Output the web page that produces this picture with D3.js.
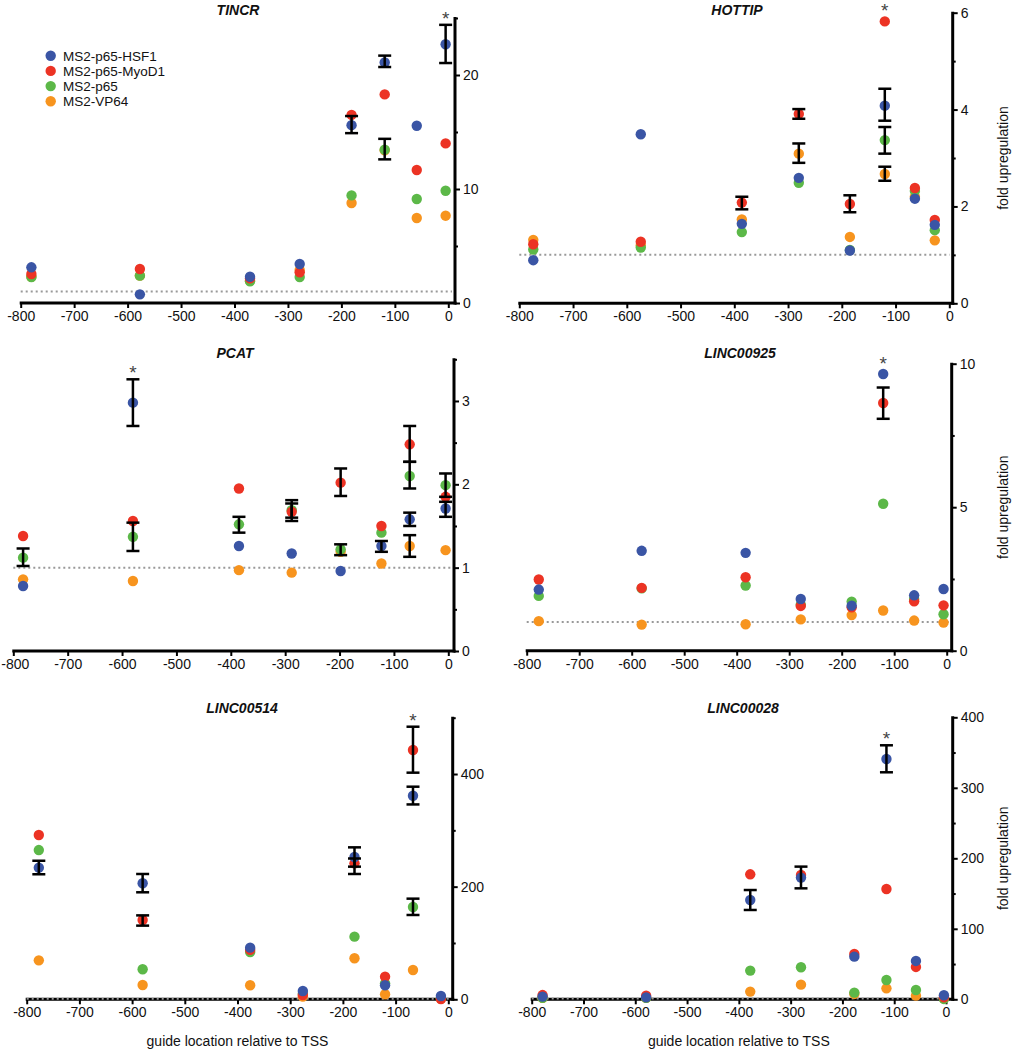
<!DOCTYPE html>
<html>
<head>
<meta charset="utf-8">
<script src="https://cdn.jsdelivr.net/npm/d3@7"></script>
<style>
  html, body { margin: 0; padding: 0; background: #fff; }
  svg { display: block; font-family: "Liberation Sans", Arial, Helvetica, sans-serif; }
</style>
</head>
<body>
<svg id="chart" width="1023" height="1050"></svg>
<script>
// ---------------- DATA ----------------
const seriesNames = ["MS2-p65-HSF1", "MS2-p65-MyoD1", "MS2-p65", "MS2-VP64"];
const seriesColors = ["#3a55a5", "#ec3324", "#5cb848", "#f7941e"];
const xTickValues = [-800, -700, -600, -500, -400, -300, -200, -100, 0];

// TINCR
const tincrPos   = [-780, -577, -371, -278, -181, -119, -59, -5];
const tincrHSF1  = [3.13, 0.76, 2.30, 3.42, 15.6, 21.1, 15.55, 22.7];
const tincrMyoD1 = [2.54, 2.98, 2.16, 2.69, 16.5, 18.3, 11.67, 14.0];
const tincrP65   = [2.28, 2.40, 1.90, 2.28, 9.44, 13.45, 9.12, 9.85];
const tincrVP64  = [2.30, 2.40, 1.95, 2.90, 8.77, 13.4, 7.46, 7.66];
const tincrErr   = [[0, 4, 14.9, 16.4], [0, 5, 20.7, 21.7], [2, 5, 12.6, 14.4], [0, 7, 21.05, 24.4]];
const tincrStar  = 7;

// HOTTIP
const hottipPos   = [-774, -574, -386, -280, -185, -120, -64, -27];
const hottipHSF1  = [0.89, 3.49, 1.64, 2.59, 1.09, 4.08, 2.16, 1.62];
const hottipMyoD1 = [1.22, 1.27, 2.08, 3.91, 2.05, 5.82, 2.38, 1.72];
const hottipP65   = [1.11, 1.15, 1.47, 2.49, 1.10, 3.37, 2.32, 1.51];
const hottipVP64  = [1.31, 1.20, 1.73, 3.09, 1.37, 2.67, 2.20, 1.30];
const hottipErr   = [[1, 2, 1.94, 2.2], [1, 3, 3.81, 4.01], [3, 3, 2.90, 3.30], [1, 4, 1.88, 2.23],
                     [0, 5, 3.77, 4.43], [2, 5, 3.09, 3.64], [3, 5, 2.53, 2.82]];
const hottipStar  = 5;

// PCAT
const pcatPos   = [-782, -580, -385, -288, -198, -123, -71, -5];
const pcatHSF1  = [0.78, 2.98, 1.26, 1.17, 0.96, 1.26, 1.58, 1.71];
const pcatMyoD1 = [1.38, 1.56, 1.95, 1.67, 2.02, 1.50, 2.48, 1.85];
const pcatP65   = [1.12, 1.37, 1.52, 1.69, 1.22, 1.42, 2.10, 1.99];
const pcatVP64  = [0.86, 0.84, 0.97, 0.94, 1.19, 1.05, 1.26, 1.21];
const pcatErr   = [[2, 0, 1.02, 1.23], [0, 1, 2.70, 3.26], [2, 1, 1.20, 1.54], [2, 2, 1.42, 1.61],
                   [1, 3, 1.56, 1.77], [2, 3, 1.60, 1.81], [1, 4, 1.86, 2.19], [2, 4, 1.15, 1.28],
                   [0, 5, 1.19, 1.32], [1, 6, 2.27, 2.70], [2, 6, 1.95, 2.27], [0, 6, 1.50, 1.66],
                   [3, 6, 1.13, 1.39], [2, 7, 1.85, 2.13], [0, 7, 1.61, 1.79]];
const pcatStar  = 1;

// LINC00925
const l925Pos   = [-777, -581, -383, -278, -181, -121, -62, -6];
const l925HSF1  = [2.13, 3.48, 3.41, 1.80, 1.57, 9.64, 1.93, 2.15];
const l925MyoD1 = [2.48, 2.19, 2.56, 1.56, 1.51, 8.63, 1.72, 1.58];
const l925P65   = [1.91, 2.17, 2.27, 1.60, 1.71, 5.12, 1.80, 1.27];
const l925VP64  = [1.03, 0.91, 0.92, 1.09, 1.24, 1.40, 1.05, 0.98];
const l925Err   = [[1, 5, 8.08, 9.17]];
const l925Star  = 5;

// LINC00514
const l514Pos   = [-777, -580, -376, -276, -178, -120, -67, -14];
const l514HSF1  = [233.7, 206, 91.7, 14.8, 252.7, 24.9, 361.5, 5.9];
const l514MyoD1 = [291.7, 140.8, 88, 7.7, 241.4, 40.2, 442.6, 0.5];
const l514P65   = [265, 53.3, 84, 10, 111.2, 28.4, 163.9, 2];
const l514VP64  = [69.2, 25.4, 24.9, 5, 72.8, 8.9, 52, 1];
const l514Err   = [[0, 0, 222, 246], [0, 1, 190, 222.5], [1, 1, 130.8, 149], [0, 4, 235.5, 269.8],
                   [1, 4, 222.5, 250], [1, 6, 402.4, 484], [0, 6, 346, 377.5], [2, 6, 149.7, 178.7]];
const l514Star  = 6;

// LINC00028
const l028Pos   = [-779, -579, -378, -280, -177, -115, -58, -4];
const l028HSF1  = [3.8, 2.8, 140.9, 172.6, 60.5, 340.9, 54.4, 5.7];
const l028MyoD1 = [6, 5, 177.3, 176.4, 64.3, 156.5, 45.9, 2.8];
const l028P65   = [2, 2, 40.7, 45.4, 9.5, 27.4, 13.2, 0.5];
const l028VP64  = [2, 2, 10.9, 20.8, 7.6, 15.6, 5.2, 1];
const l028Err   = [[0, 2, 126.7, 155], [0, 3, 157.4, 188.2], [0, 5, 322, 360.3]];
const l028Star  = 5;

// ---------------- PANELS (layout) ----------------
const panels = [
  { title: "TINCR", pos: tincrPos, vals: [tincrHSF1, tincrMyoD1, tincrP65, tincrVP64], err: tincrErr, star: tincrStar,
    yMax: 25, minor: 5, major: 10,
    x0: 20.7, x1: 448.3, axisX: 455, yb: 303, yt: 18, titleX: 238, titleY: 15, yLabel: false, xTitle: false, legend: true },
  { title: "HOTTIP", pos: hottipPos, vals: [hottipHSF1, hottipMyoD1, hottipP65, hottipVP64], err: hottipErr, star: hottipStar,
    yMax: 6, minor: 1, major: 2,
    x0: 519.3, x1: 949.3, axisX: 952.7, yb: 303.3, yt: 12.7, titleX: 737, titleY: 15, yLabel: true, xTitle: false },
  { title: "PCAT", pos: pcatPos, vals: [pcatHSF1, pcatMyoD1, pcatP65, pcatVP64], err: pcatErr, star: pcatStar,
    yMax: 3.5, minor: 0.5, major: 1,
    x0: 13.3, x1: 448.3, axisX: 454, yb: 651, yt: 359.3, titleX: 235, titleY: 358, yLabel: false, xTitle: false },
  { title: "LINC00925", pos: l925Pos, vals: [l925HSF1, l925MyoD1, l925P65, l925VP64], err: l925Err, star: l925Star,
    yMax: 10, minor: 2.5, major: 5,
    x0: 526.7, x1: 946.7, axisX: 951.7, yb: 650.7, yt: 363.7, titleX: 740, titleY: 358, yLabel: true, xTitle: false },
  { title: "LINC00514", pos: l514Pos, vals: [l514HSF1, l514MyoD1, l514P65, l514VP64], err: l514Err, star: l514Star,
    yMax: 500, minor: 100, major: 200,
    x0: 26.7, x1: 448.3, axisX: 452.7, yb: 999.3, yt: 717.7, titleX: 242, titleY: 713, yLabel: false, xTitle: true },
  { title: "LINC00028", pos: l028Pos, vals: [l028HSF1, l028MyoD1, l028P65, l028VP64], err: l028Err, star: l028Star,
    yMax: 400, minor: 50, major: 100,
    x0: 531.7, x1: 946, axisX: 952.7, yb: 999.3, yt: 717.3, titleX: 743, titleY: 713, yLabel: true, xTitle: true }
];

const svg = d3.select("#chart");
const drawOrder = [3, 2, 1, 0]; // orange, green, red, blue on top
const plain = d => String(d);   // ASCII hyphen for negatives, as in the reference

panels.forEach(p => {
  const g = svg.append("g");
  const x = d3.scaleLinear().domain([-800, 0]).range([p.x0, p.x1]);
  const y = d3.scaleLinear().domain([0, p.yMax]).range([p.yb, p.yt]);

  // title
  g.append("text").attr("x", p.titleX).attr("y", p.titleY)
    .attr("text-anchor", "middle").attr("font-size", 14).attr("font-weight", "bold")
    .attr("font-style", "italic").attr("fill", "#111").text(p.title);

  // x axis
  const xa = g.append("g").attr("transform", `translate(0,${p.yb})`)
    .call(d3.axisBottom(x).tickValues(xTickValues).tickSize(5).tickPadding(3).tickFormat(plain));
  xa.select(".domain").remove();
  xa.selectAll(".tick line").attr("stroke", "#000").attr("stroke-width", 2);
  xa.selectAll(".tick text").attr("font-size", 14).attr("fill", "#111")
    .attr("font-family", "'Liberation Sans', Arial, sans-serif")
    .attr("dx", d => (d === -800 && p.x0 < 16) ? 1.5 : 0);
  g.append("line").attr("x1", p.x0 - 1).attr("x2", p.axisX + 1.5)
    .attr("y1", p.yb).attr("y2", p.yb).attr("stroke", "#000").attr("stroke-width", 3);

  // y axis
  const yTicks = d3.range(0, p.yMax + 1e-9, p.minor);
  const isMajor = d => Math.abs(d / p.major - Math.round(d / p.major)) < 1e-6;
  const ya = g.append("g").attr("transform", `translate(${p.axisX},0)`)
    .call(d3.axisRight(y).tickValues(yTicks).tickSize(4).tickPadding(4)
      .tickFormat(d => isMajor(d) ? plain(Math.round(d)) : ""));
  ya.select(".domain").remove();
  ya.selectAll(".tick line").attr("stroke", "#000").attr("stroke-width", 2)
    .attr("x2", d => isMajor(d) ? 5 : 3);
  ya.selectAll(".tick text").attr("font-size", 14).attr("fill", "#111")
    .attr("font-family", "'Liberation Sans', Arial, sans-serif");
  g.append("line").attr("x1", p.axisX).attr("x2", p.axisX)
    .attr("y1", y(p.yMax) - 1).attr("y2", p.yb + 1.5).attr("stroke", "#000").attr("stroke-width", 3);

  // baseline at 1
  g.append("line").attr("x1", p.x0).attr("x2", p.axisX - 3)
    .attr("y1", y(1)).attr("y2", y(1))
    .attr("stroke", "#999").attr("stroke-width", 2).attr("stroke-dasharray", "2,3");

  // dots
  drawOrder.forEach(si => {
    g.append("g").selectAll("circle").data(p.vals[si]).join("circle")
      .attr("cx", (d, i) => x(p.pos[i])).attr("cy", d => y(d)).attr("r", 5.2)
      .attr("fill", seriesColors[si]);
  });

  // error bars
  const eg = g.append("g").attr("stroke", "#000").attr("stroke-width", 2.5);
  p.err.forEach(e => {
    const cx = x(p.pos[e[1]]);
    eg.append("line").attr("x1", cx).attr("x2", cx).attr("y1", y(e[2])).attr("y2", y(e[3]));
    eg.append("line").attr("x1", cx - 6.5).attr("x2", cx + 6.5).attr("y1", y(e[2])).attr("y2", y(e[2]));
    eg.append("line").attr("x1", cx - 6.5).attr("x2", cx + 6.5).attr("y1", y(e[3])).attr("y2", y(e[3]));
  });

  // star
  let top = d3.min(p.vals, v => y(v[p.star]) - 5);
  p.err.filter(e => e[1] === p.star).forEach(e => { top = Math.min(top, y(e[3]) - 1); });
  g.append("text").attr("x", x(p.pos[p.star])).attr("y", top + 1)
    .attr("text-anchor", "middle").attr("font-size", 19).attr("fill", "#444").text("*");

  // y label
  if (p.yLabel) {
    const cy = (p.yb + y(p.yMax)) / 2;
    g.append("text").attr("transform", `translate(1008,${cy}) rotate(-90)`)
      .attr("text-anchor", "middle").attr("font-size", 14).attr("fill", "#111").text("fold upregulation");
  }
  // x title
  if (p.xTitle) {
    g.append("text").attr("x", (p.x0 + p.x1) / 2).attr("y", 1046)
      .attr("text-anchor", "middle").attr("font-size", 14).attr("fill", "#111").text("guide location relative to TSS");
  }
  // legend
  if (p.legend) {
    const lg = g.append("g");
    seriesNames.forEach((name, i) => {
      lg.append("circle").attr("cx", 50.7).attr("cy", 55.7 + i * 15.2).attr("r", 5.2).attr("fill", seriesColors[i]);
      lg.append("text").attr("x", 63).attr("y", 55.7 + i * 15.2 + 4.8)
        .attr("font-size", 13.5).attr("fill", "#111").text(name);
    });
  }
});
</script>
</body>
</html>
